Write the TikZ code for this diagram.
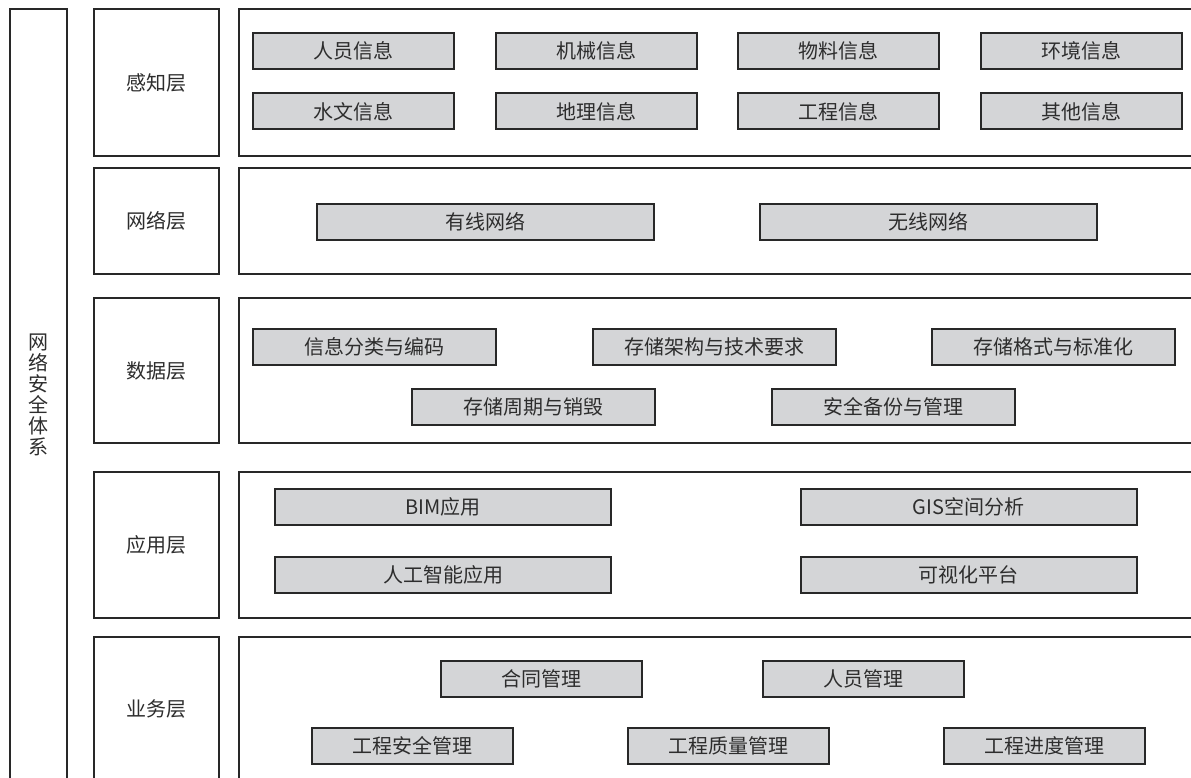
\documentclass[tikz,border=0pt]{standalone}
\usepackage{fontspec}
\setmainfont{Noto Sans CJK SC}
\definecolor{boxgray}{RGB}{212,213,215}
\definecolor{linecol}{RGB}{40,40,40}
\definecolor{txtcol}{RGB}{45,45,45}
\tikzset{
  frame/.style={draw=linecol, line width=2pt, fill=white, inner sep=0pt, text=txtcol,
    font=\fontsize{20}{21}\selectfont},
  gbox/.style={draw=linecol, line width=2pt, fill=boxgray, inner sep=0pt, text=txtcol,
    minimum height=36pt, font=\fontsize{20}{21}\selectfont},
  lab/.style={frame, minimum width=125pt},
  cont/.style={frame, minimum width=976pt},
}
\begin{document}
\begin{tikzpicture}[x=1pt,y=-1pt]
\useasboundingbox (0,0) rectangle (1191,778);
\clip (0,0) rectangle (1191,778);
\fill[white] (0,0) rectangle (1191,778);

% left column
\node[frame, minimum width=57pt, minimum height=772pt, align=center] (sec) at (38.5,395)
  {网\\络\\安\\全\\体\\系};

% layer label boxes
\node[lab, minimum height=147pt] (l1) at (156.5,82.5) {感知层};
\node[lab, minimum height=106pt] (l2) at (156.5,221) {网络层};
\node[lab, minimum height=145pt] (l3) at (156.5,370.5) {数据层};
\node[lab, minimum height=146pt] (l4) at (156.5,545) {应用层};
\node[lab, minimum height=144pt] (l5) at (156.5,709) {业务层};

% content frames
\node[cont, minimum height=147pt] (c1) at (727,82.5) {};
\node[cont, minimum height=106pt] (c2) at (727,221) {};
\node[cont, minimum height=145pt] (c3) at (727,370.5) {};
\node[cont, minimum height=146pt] (c4) at (727,545) {};
\node[cont, minimum height=144pt] (c5) at (727,709) {};

% perception layer
\node[gbox, minimum width=201pt] (p1) at (353.5,51) {人员信息};
\node[gbox, minimum width=201pt] (p2) at (596,51) {机械信息};
\node[gbox, minimum width=201pt] (p3) at (838,51) {物料信息};
\node[gbox, minimum width=201pt] (p4) at (1081.5,51) {环境信息};
\node[gbox, minimum width=201pt] (p5) at (353.5,111.5) {水文信息};
\node[gbox, minimum width=201pt] (p6) at (596,111.5) {地理信息};
\node[gbox, minimum width=201pt] (p7) at (838,111.5) {工程信息};
\node[gbox, minimum width=201pt] (p8) at (1081.5,111.5) {其他信息};

% network layer
\node[gbox, minimum width=337pt] (n1) at (485.5,222) {有线网络};
\node[gbox, minimum width=337pt] (n2) at (928.5,222) {无线网络};

% data layer
\node[gbox, minimum width=243pt] (d1) at (374.5,346.5) {信息分类与编码};
\node[gbox, minimum width=243pt] (d2) at (714,346.5) {存储架构与技术要求};
\node[gbox, minimum width=243pt] (d3) at (1053.5,346.5) {存储格式与标准化};
\node[gbox, minimum width=243pt] (d4) at (533.5,406.5) {存储周期与销毁};
\node[gbox, minimum width=243pt] (d5) at (893.5,406.5) {安全备份与管理};

% application layer
\node[gbox, minimum width=336pt] (a1) at (443,507) {BIM应用};
\node[gbox, minimum width=336pt] (a2) at (968.5,507) {GIS空间分析};
\node[gbox, minimum width=336pt] (a3) at (443,575) {人工智能应用};
\node[gbox, minimum width=336pt] (a4) at (968.5,575) {可视化平台};

% business layer
\node[gbox, minimum width=201pt] (b1) at (541.5,679) {合同管理};
\node[gbox, minimum width=201pt] (b2) at (863.5,679) {人员管理};
\node[gbox, minimum width=201pt] (b3) at (412,746) {工程安全管理};
\node[gbox, minimum width=201pt] (b4) at (728,746) {工程质量管理};
\node[gbox, minimum width=201pt] (b5) at (1044,746) {工程进度管理};
\end{tikzpicture}
\end{document}
